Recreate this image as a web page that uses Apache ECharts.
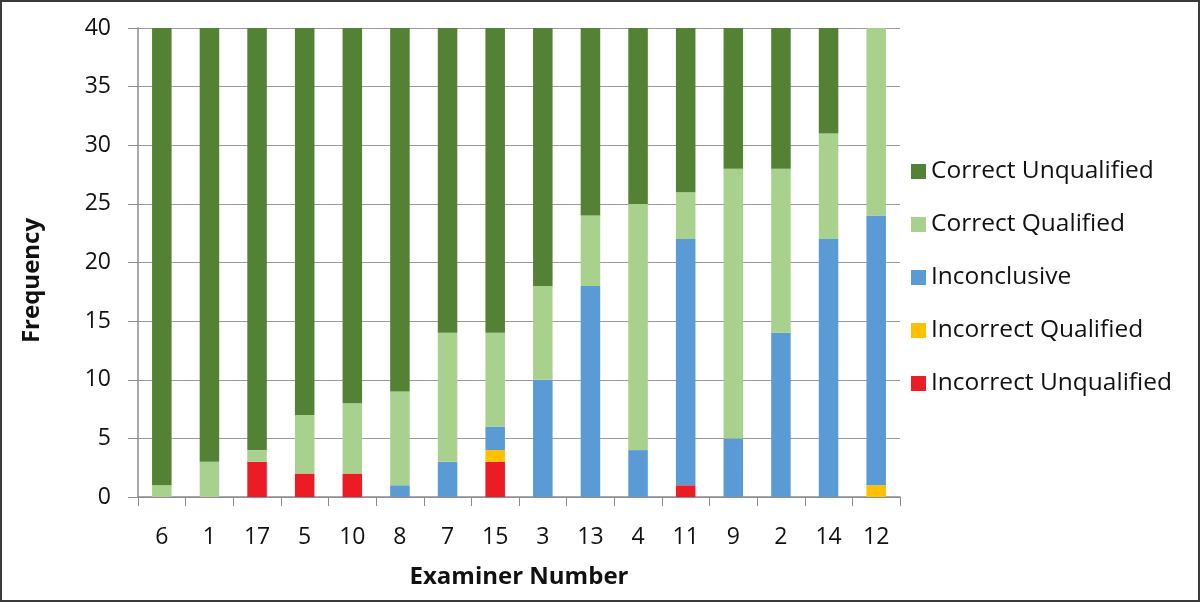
<!DOCTYPE html>
<html>
<head>
<meta charset="utf-8">
<script src="https://cdn.jsdelivr.net/npm/echarts@6/dist/echarts.min.js"></script>
<style>
  html, body { margin: 0; padding: 0; background: #fff; }
  #chart { width: 1200px; height: 602px; box-sizing: border-box; border: 2px solid #3a3a3a; }
</style>
</head>
<body>
<div id="chart"></div>
<script>
// examiners, in the order they appear on the x axis
const examiners = ['6', '1', '17', '5', '10', '8', '7', '15', '3', '13', '4', '11', '9', '2', '14', '12'];

// stacked counts per examiner (bottom to top)
const incorrectUnqualified = [0, 0, 3, 2, 2, 0, 0, 3, 0, 0, 0, 1, 0, 0, 0, 0];
const incorrectQualified   = [0, 0, 0, 0, 0, 0, 0, 1, 0, 0, 0, 0, 0, 0, 0, 1];
const inconclusive         = [0, 0, 0, 0, 0, 1, 3, 2, 10, 18, 4, 21, 5, 14, 22, 23];
const correctQualified     = [1, 3, 1, 5, 6, 8, 11, 8, 8, 6, 21, 4, 23, 14, 9, 16];
const correctUnqualified   = [39, 37, 36, 33, 32, 31, 26, 26, 22, 16, 15, 14, 12, 12, 9, 0];

const yTicks = [0, 5, 10, 15, 20, 25, 30, 35, 40];

const font = '"Open Sans", "Liberation Sans", sans-serif';

function stack(name, data, color) {
  return {
    name: name,
    type: 'bar',
    stack: 'all',
    data: data,
    barWidth: '41%',
    itemStyle: { color: color },
    emphasis: { disabled: true }
  };
}

const chart = echarts.init(document.getElementById('chart'));

chart.setOption({
  animation: false,
  textStyle: { fontFamily: font },
  grid: { left: 136, right: 298, top: 26, bottom: 103 },
  legend: {
    orient: 'vertical',
    left: 904,
    top: 152,
    itemWidth: 15,
    itemHeight: 15,
    itemGap: 28,
    icon: 'rect',
    textStyle: { fontSize: 24.5, color: '#111', fontFamily: font },
    data: ['Correct Unqualified', 'Correct Qualified', 'Inconclusive', 'Incorrect Qualified', 'Incorrect Unqualified']
  },
  xAxis: {
    type: 'category',
    data: examiners,
    name: 'Examiner Number',
    nameLocation: 'middle',
    nameGap: 68,
    nameTextStyle: { fontSize: 24, fontWeight: 'bold', color: '#111', fontFamily: font },
    axisLine: { lineStyle: { color: '#8c8c8c', width: 1.5 } },
    axisTick: { show: true, length: 9, alignWithLabel: false, lineStyle: { color: '#8c8c8c' } },
    axisLabel: { fontSize: 23, color: '#111', margin: 29 }
  },
  yAxis: {
    type: 'value',
    min: yTicks[0],
    max: yTicks[yTicks.length - 1],
    interval: 5,
    name: 'Frequency',
    nameLocation: 'middle',
    nameGap: 94,
    nameTextStyle: { fontSize: 24, fontWeight: 'bold', color: '#111', fontFamily: font, padding: [0, 36, 0, 0] },
    axisLine: { show: true, lineStyle: { color: '#8c8c8c', width: 1.5 } },
    axisTick: { show: true, length: 10, lineStyle: { color: '#8c8c8c' } },
    axisLabel: { fontSize: 23, color: '#111', margin: 27 },
    splitLine: { lineStyle: { color: '#9a9a9a', width: 1.2 } }
  },
  series: [
    stack('Incorrect Unqualified', incorrectUnqualified, '#ec1c24'),
    stack('Incorrect Qualified', incorrectQualified, '#ffc000'),
    stack('Inconclusive', inconclusive, '#5b9bd5'),
    stack('Correct Qualified', correctQualified, '#a9d18e'),
    stack('Correct Unqualified', correctUnqualified, '#548235')
  ]
});
</script>
</body>
</html>
